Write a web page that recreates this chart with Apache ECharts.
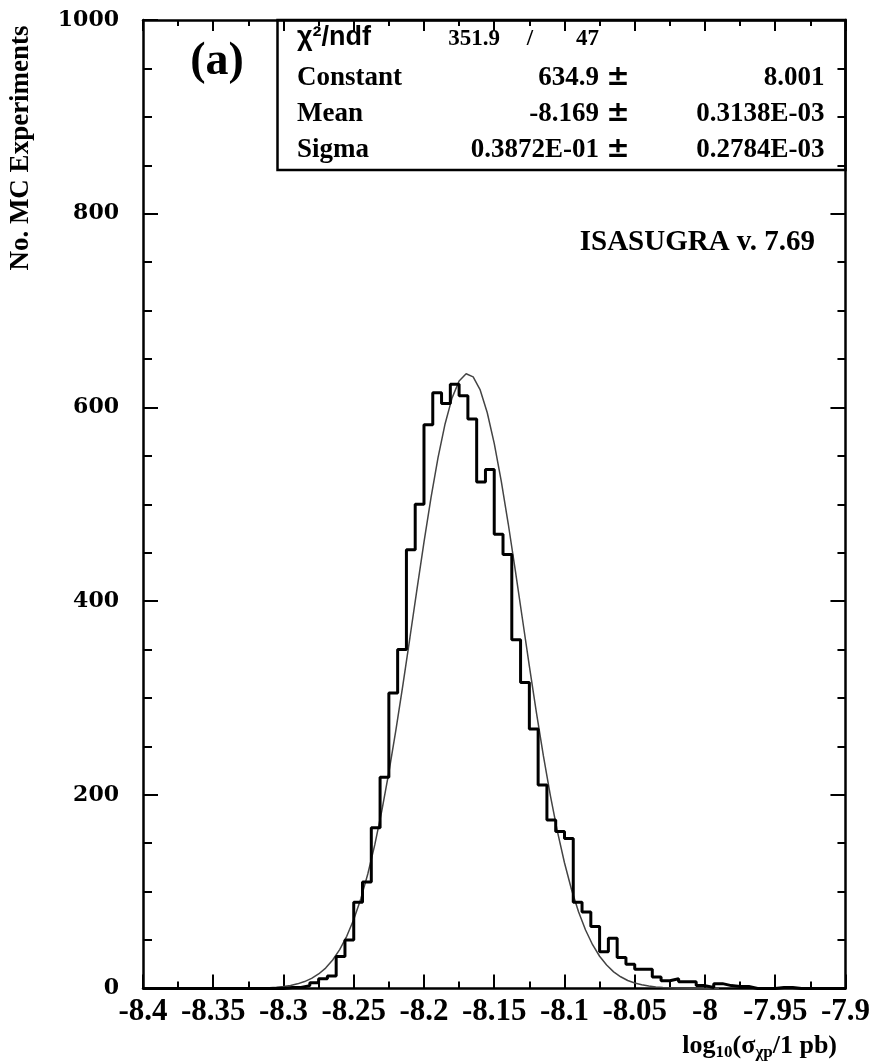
<!DOCTYPE html>
<html>
<head>
<meta charset="utf-8">
<script src="https://cdn.jsdelivr.net/npm/echarts@6/dist/echarts.min.js"></script>
<style>html,body{margin:0;padding:0;background:#fff}#c{width:873px;height:1064px}</style>
</head>
<body>
<div id="c"></div>
<script>
// Histogram: 80 bins of width 0.00625 from -8.4 to -7.9
const binStart = -8.4;
const binWidth = 0.00625;
const counts = [
  0,0,0,0,0,0,0,0,0,0,
  0,0,0,0,0,0,1,1,3,6,
  10,13,33,50,89,110,166,218,305,350,
  453,500,582,615,604,624,612,588,523,536,
  469,448,360,316,268,210,174,162,155,89,
  79,64,38,52,32,25,20,20,12,8,
  10,7,7,3,1,5,3,2,2,0,
  0,0,1,1,0,0,0,0,0,0
];
// Gaussian fit curve
const fitX = [-8.35,-8.34,-8.335,-8.33,-8.325,-8.32,-8.315,-8.31,-8.305,-8.30,-8.295,-8.29,-8.285,-8.28,-8.275,-8.27,-8.265,-8.26,-8.255,-8.25,-8.245,-8.24,-8.235,-8.23,-8.225,-8.22,-8.215,-8.21,-8.205,-8.20,-8.195,-8.19,-8.185,-8.18,-8.175,-8.17,-8.165,-8.16,-8.155,-8.15,-8.145,-8.14,-8.135,-8.13,-8.125,-8.12,-8.115,-8.11,-8.105,-8.10,-8.095,-8.09,-8.085,-8.08,-8.075,-8.07,-8.065,-8.06,-8.055,-8.05,-8.045,-8.04,-8.035,-8.03,-8.02,-8.01,-8.00,-7.99];
const fitY = [0.01,0.03,0.06,0.11,0.19,0.32,0.52,0.84,1.33,2.07,3.19,4.81,7.14,10.4,15.0,21.1,29.4,40.1,53.9,71.2,92.5,118.2,148.5,183.6,223.1,266.7,313.5,362.4,412.1,460.8,506.8,548.1,582.9,609.8,627.3,634.7,631.5,618.0,594.7,562.9,523.9,479.6,431.8,382.3,332.9,285.1,240.1,198.8,162.0,129.8,102.2,79.2,60.4,45.2,33.3,24.2,17.2,12.1,8.3,5.6,3.8,2.5,1.6,1.0,0.39,0.14,0.05,0.01];
// Fit statistics box
const statLabels = ['Constant','Mean','Sigma'];
const statValues = ['634.9','-8.169','0.3872E-01'];
const statErrors = ['8.001','0.3138E-03','0.2784E-03'];
const chi2 = '351.9', ndf = '47';
const xMin = -8.4, xMax = -7.9, xStep = 0.05;
const yMin = 0, yMax = 1000, yStep = 200;

const histData = [];
for (let i = 0; i <= counts.length; i++) {
  histData.push([binStart + i * binWidth, counts[Math.min(i, counts.length - 1)]]);
}
const fitData = fitX.map((x, i) => [x, fitY[i]]);

const L = 143, R = 845.5, T = 20, B = 988.5;
const serifB = 'bold 27px "Liberation Serif"';

function axisCommon(pos, major, minor) {
  return {
    show: true,
    axisLine: { show: true, onZero: false, lineStyle: { color: '#000', width: 2.5 } },
    axisTick: { show: true, inside: true, length: major, lineStyle: { color: '#000', width: 2 } },
    minorTick: { show: true, length: minor, lineStyle: { color: '#000', width: 2 } },
    splitLine: { show: false },
    position: pos
  };
}

const xBottom = Object.assign(axisCommon('bottom', 14, 7), {
  type: 'value', min: xMin, max: xMax, interval: xStep,
  axisLabel: { show: true, margin: 8, color: '#000', fontFamily: 'Liberation Serif', fontWeight: 'bold', fontSize: 31,
    formatter: v => String(+(+v).toFixed(3)) }
});
xBottom.minorTick.splitNumber = 2;
const xTop = Object.assign(axisCommon('top', 11, 6), {
  type: 'value', min: xMin, max: xMax, interval: xStep, axisLabel: { show: false }
});
xTop.minorTick.splitNumber = 2;
const yLeft = Object.assign(axisCommon('left', 15, 9), {
  type: 'value', min: yMin, max: yMax, interval: yStep,
  axisLabel: { show: true, margin: 24, color: '#000', fontFamily: 'DejaVu Serif', fontWeight: 'bold', fontSize: 22,
    formatter: v => String(v) }
});
yLeft.minorTick.splitNumber = 4;
const yRight = Object.assign(axisCommon('right', 15, 8), {
  type: 'value', min: yMin, max: yMax, interval: yStep, axisLabel: { show: false }
});
yRight.minorTick.splitNumber = 4;

const graphics = [
  { type: 'text', x: 21, y: 148, rotation: Math.PI / 2,
    style: { text: 'No. MC Experiments', font: 'bold 27px "Liberation Serif"', fill: '#000', align: 'center', verticalAlign: 'middle' } },
  { type: 'text', x: 217, y: 62,
    style: { text: '(a)', font: 'bold 46px "Liberation Serif"', fill: '#000', align: 'center', verticalAlign: 'middle' } },
  { type: 'rect', shape: { x: 277.5, y: T, width: R - 277.5, height: 150 },
    style: { fill: 'none', stroke: '#000', lineWidth: 2.5 }, z: 100 },
  { type: 'text', x: 297, y: 38,
    style: { text: 'χ²/ndf', font: 'bold 27px "Liberation Sans"', fill: '#000', align: 'left', verticalAlign: 'middle' }, z: 100 },
  { type: 'text', x: 500, y: 39,
    style: { text: chi2, font: 'bold 23px "Liberation Serif"', fill: '#000', align: 'right', verticalAlign: 'middle' }, z: 100 },
  { type: 'text', x: 530, y: 39,
    style: { text: '/', font: 'bold 23px "Liberation Serif"', fill: '#000', align: 'center', verticalAlign: 'middle' }, z: 100 },
  { type: 'text', x: 599, y: 39,
    style: { text: ndf, font: 'bold 23px "Liberation Serif"', fill: '#000', align: 'right', verticalAlign: 'middle' }, z: 100 },
  { type: 'text', x: 815, y: 243,
    style: { text: 'ISASUGRA v. 7.69', font: 'bold 29px "Liberation Serif"', fill: '#000', align: 'right', verticalAlign: 'middle' } }
];
const rowY = [78, 114, 150];
statLabels.forEach((lab, i) => {
  graphics.push({ type: 'text', x: 297, y: rowY[i], z: 100,
    style: { text: lab, font: serifB, fill: '#000', align: 'left', verticalAlign: 'middle' } });
  graphics.push({ type: 'text', x: 599, y: rowY[i], z: 100,
    style: { text: statValues[i], font: serifB, fill: '#000', align: 'right', verticalAlign: 'middle' } });
  graphics.push({ type: 'text', x: 618, y: rowY[i], z: 100,
    style: { text: '±', font: 'bold 28px "DejaVu Sans"', fill: '#000', align: 'center', verticalAlign: 'middle' } });
  graphics.push({ type: 'text', x: 824.5, y: rowY[i], z: 100,
    style: { text: statErrors[i], font: serifB, fill: '#000', align: 'right', verticalAlign: 'middle' } });
});

const chart = echarts.init(document.getElementById('c'), null, { renderer: 'canvas' });
chart.setOption({
  backgroundColor: '#fff',
  animation: false,
  title: {
    text: '{m|log}{s|10}{m|(σ}{s|χp}{m|/1 pb)}',
    right: 31, top: 1026,
    textStyle: {
      rich: {
        m: { fontFamily: 'Liberation Serif', fontWeight: 'bold', fontSize: 26, lineHeight: 30, color: '#000', verticalAlign: 'middle' },
        s: { fontFamily: 'Liberation Serif', fontWeight: 'bold', fontSize: 17, lineHeight: 14, color: '#000', verticalAlign: 'bottom' }
      }
    }
  },
  grid: { left: L, right: 873 - R, top: T, bottom: 1064 - B, containLabel: false },
  xAxis: [xBottom, xTop],
  yAxis: [yLeft, yRight],
  graphic: graphics,
  series: [
    { type: 'line', xAxisIndex: 0, yAxisIndex: 0, data: fitData, smooth: false,
      showSymbol: false, lineStyle: { color: '#444', width: 1.5 }, z: 2 },
    { type: 'line', xAxisIndex: 0, yAxisIndex: 0, data: histData, step: 'end',
      showSymbol: false, lineStyle: { color: '#000', width: 3 }, z: 3 }
  ]
});
</script>
</body>
</html>
